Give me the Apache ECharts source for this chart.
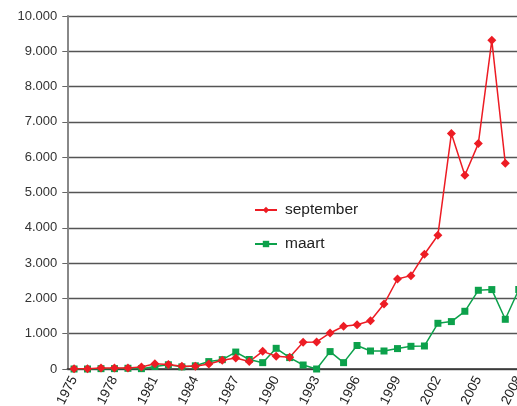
<!DOCTYPE html>
<html>
<head>
<meta charset="utf-8">
<script src="https://cdn.jsdelivr.net/npm/echarts@6/dist/echarts.min.js"></script>
<style>
  html, body { margin: 0; padding: 0; background: #fff; }
  #chart { width: 517px; height: 406px; }
</style>
</head>
<body>
<div id="chart"></div>
<script>
  // jaren 1975 - 2008
  let years = [];
  for (let y = 1975; y <= 2008; y++) years.push(String(y));

  let september = [10, 10, 30, 30, 30, 55, 150, 125, 75, 75,
    140, 250, 310, 210, 500, 360, 330, 756, 765, 1020,
    1210, 1255, 1365, 1840, 2550, 2645, 3250, 3790, 6670, 5490,
    6385, 9310, 5830, null];

  let maart = [0, 0, 10, 10, 20, 10, 70, 120, 60, 90,
    210, 265, 480, 270, 180, 586, 323, 113, 0, 493,
    180, 665, 510, 510, 578, 643, 652, 1295, 1343, 1635,
    2230, 2250, 1408, 2250];

  let myChart = echarts.init(document.getElementById('chart'));
  let option = {
    animation: false,
    textStyle: { fontFamily: '"Liberation Sans", Arial, sans-serif' },
    grid: {
      left: 67.3,
      right: -8.5,
      top: 16,
      bottom: 37,
      outerBoundsMode: 'none'
    },
    legend: {
      data: ['september', 'maart'],
      orient: 'vertical',
      left: 249,
      top: 197,
      itemWidth: 22,
      itemHeight: 8,
      itemGap: 18,
      textStyle: { fontSize: 15.5, color: '#222', padding: [0, 0, 0, 3] }
    },
    xAxis: {
      type: 'category',
      data: years,
      boundaryGap: true,
      axisLine: { lineStyle: { color: '#333', width: 1.5 } },
      axisTick: { interval: 0, length: 4, lineStyle: { color: '#333' } },
      axisLabel: {
        interval: 2,
        rotate: 63,
        fontSize: 13.5,
        color: '#222',
        margin: 8
      }
    },
    yAxis: {
      type: 'value',
      min: 0,
      max: 10000,
      interval: 1000,
      axisLine: { show: true, lineStyle: { color: '#888', width: 2 } },
      axisTick: { show: true, length: 5, lineStyle: { color: '#666' } },
      axisLabel: {
        fontSize: 13,
        color: '#333',
        margin: 10,
        formatter: function (v) {
          return String(v).replace(/\B(?=(\d{3})+(?!\d))/g, '.');
        }
      },
      splitLine: { lineStyle: { color: '#555', width: 1.3 } }
    },
    series: [
      {
        name: 'maart',
        type: 'line',
        data: maart,
        symbol: 'rect',
        symbolSize: 7,
        showAllSymbol: true,
        color: '#0ca14b',
        lineStyle: { width: 1.5 }
      },
      {
        name: 'september',
        type: 'line',
        data: september,
        symbol: 'diamond',
        symbolSize: 9,
        showAllSymbol: true,
        color: '#ed1c24',
        lineStyle: { width: 1.5 }
      }
    ]
  };
  myChart.setOption(option);
</script>
</body>
</html>
